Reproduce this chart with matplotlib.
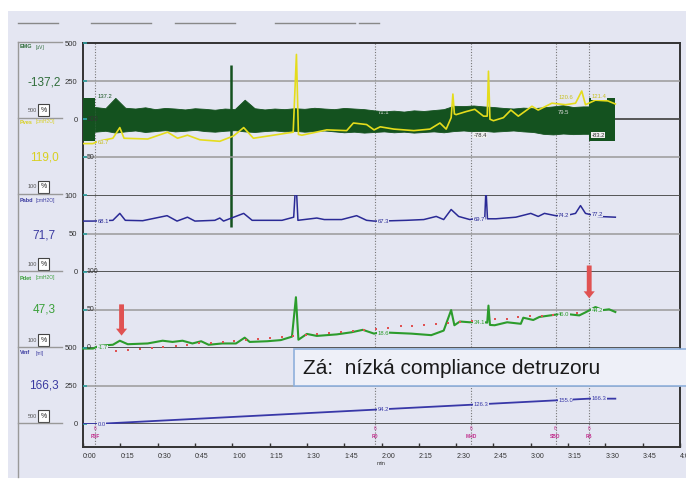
import numpy as np
import matplotlib.pyplot as plt
from matplotlib.patches import Rectangle
from matplotlib.lines import Line2D

plt.rcParams['font.family'] = ['Liberation Sans', 'DejaVu Sans']

# ---------------- data (time in seconds) ----------------
tick_labels = ['0:00', '0:15', '0:30', '0:45', '1:00', '1:15', '1:30', '1:45', '2:00',
               '2:15', '2:30', '2:45', '3:00', '3:15', '3:30', '3:45', '4:00']

event_t = [4.8, 117.4, 156.0, 190.0, 203.5]
event_names = ['FSF', 'FD', 'MHD', 'SBD', 'FB']

# EMG [uV] - envelope of the dense signal
emg_band_t = [4.8, 9, 13, 17, 21, 25, 29, 33, 37, 41, 45, 49, 53, 57, 61, 65, 69, 73, 77, 81,
              85, 89, 93, 97, 101, 105, 109, 113, 117, 121, 125, 129, 133, 137, 141, 145, 149,
              153, 157, 161, 165, 169, 173, 177, 181, 185, 189, 193, 197, 201, 203.5]
emg_band_hi = [80, 72, 140, 75, 70, 78, 66, 74, 70, 64, 72, 68, 62, 70, 66, 128, 72, 64, 70, 66,
               72, 68, 75, 70, 66, 74, 70, 66, 58, 52, 56, 50, 58, 54, 60, 66, 88, 86, 90, 84,
               80, 74, 70, 76, 72, 78, 84, 92, 80, 84, 84]
emg_band_lo = [-82, -76, -88, -80, -74, -84, -78, -72, -80, -76, -70, -78, -82, -76, -72, -80,
               -84, -78, -74, -80, -76, -82, -78, -74, -80, -86, -82, -88, -84, -80, -86, -82,
               -88, -84, -80, -86, -78, -74, -80, -76, -82, -78, -74, -80, -84, -96, -100, -94,
               -98, -96, -96]
emg_block_t = [(0, 4.8), (203.5, 214)]
emg_block_hi = [137, 140]
emg_block_lo = [-140, -144]
emg_spike_t = [59.5]
emg_spike_hi = [354]
emg_spike_lo = [-708]

# Pves [cmH2O]
pves_t = [0, 4, 6, 12, 14.8, 16.5, 26, 34, 38, 42, 47, 55, 60.5, 64.6, 68.5, 76.5, 84.5, 85.8,
          86.6, 88, 98, 106, 108.7, 114, 117, 119.5, 125, 133, 139.5, 143.5, 146, 148, 148.7,
          149.3, 150, 154, 157.5, 161, 162.5, 163, 163.6, 165, 169, 172, 175, 180.5, 183,
          188.5, 194, 198, 200.5, 202, 206, 211, 214]
pves_v = [68, 68, 71, 75, 89, 75, 74, 83, 75, 79, 73, 71, 78, 89, 75, 79, 83, 185,
          80, 79, 86, 85, 95, 93, 86, 90, 87, 85, 87, 95, 87, 102, 133,
          107, 106, 110, 113, 104, 104, 163, 100, 98, 102, 112, 104, 117, 112,
          121, 119, 121, 137, 119, 125, 124, 120]

# Pabd [cmH2O]
pabd_t = [0, 4, 12, 14.8, 17, 24, 33.8, 37.8, 42, 45, 53, 55, 56.5, 64.6, 68, 80, 84.7, 85.6,
          86.4, 94, 97, 104, 110, 114, 117, 119.4, 130, 137, 142, 145, 148, 151, 155.5, 159,
          161.5, 162, 162.6, 166, 174, 180, 183, 185.5, 190, 194, 198, 200, 202, 207, 214]
pabd_v = [66.3, 66.3, 67.3, 76.4, 67.3, 66.8, 73.4, 66.3, 71.4, 66.3, 67.3, 70.3, 66.3, 76.4,
          67.3, 67.3, 71.4, 122, 67.3, 70.3, 68.3, 68.3, 73.4, 67.3, 66.3, 66.3, 67.3, 68.3,
          72.4, 68.3, 81.5, 72.4, 68.3, 70.3, 69, 109, 69.3, 69.3, 71.4, 76.4, 72.4, 76.4,
          73.4, 73.4, 76.4, 86.6, 76.4, 72.4, 71.4]

# Pdet [cmH2O]
pdet_t = [0, 4, 6.5, 12, 14.8, 18, 26, 32, 36, 40, 44, 47.5, 50.5, 56, 61.5, 65, 67, 74, 79.5,
          84, 85.6, 86.6, 90, 94, 102, 108, 112.5, 117, 119.4, 125, 132, 140, 145, 148, 149.3,
          151.5, 155.5, 159.5, 162.5, 163, 163.6, 165.5, 170.5, 176, 177, 181, 183.5, 190, 194,
          199.5, 202, 206, 209, 211.5, 214]
pdet_v = [-1, -1, 2.7, 4, 9.3, 4.7, 5.7, 9.3, 7.7, 9.3, 5.7, 8.6, 4, 5.7, 5.7, 13.3, 7.7, 8.6,
          10.1, 14.6, 66.4, 10.6, 18.2, 15.6, 17.6, 20.4, 23.6, 18.6, 20.4, 19.6, 18.6, 16.6,
          22.6, 49.5, 29.6, 34.5, 33.5, 34.5, 33, 55.4, 30, 29.6, 33.5, 31.5, 39.5, 36.5, 40.5,
          43.5, 44.5, 42.5, 46.5, 53.5, 49.5, 50.5, 47]

# red dotted compliance trend
trend_t = [13.3, 18.2, 22.9, 27.6, 32.3, 37.3, 41.9, 46.8, 51.5, 56.2, 60.8, 65.5, 70.5, 75.2,
           79.9, 84.6, 89.5, 94.2, 99.0, 103.7, 108.4, 113.1, 117.8, 122.8, 127.7, 132.4,
           137.1, 141.9, 146.9, 151.6, 156.3, 161.0, 165.7, 170.4, 175.0, 179.7, 184.4, 189.1,
           193.8, 198.5]
trend_v = [-4.0, -3.1, -1.7, -0.4, 1.4, 2.7, 4.0, 5.8, 6.7, 8.0, 9.4, 10.3, 11.6, 12.9,
           13.8, 15.6, 16.9, 17.8, 19.6, 20.5, 21.8, 23.1, 24.5, 26.3, 28.0, 28.9, 30.3,
           31.6, 32.5, 33.8, 35.1, 36.0, 37.4, 38.3, 40.0, 41.4, 42.3, 43.6, 44.9, 46.3]

# Vinf [ml]
vinf_t = [0, 5, 117.4, 156.0, 190.0, 203.5, 214]
vinf_v = [0, 0, 94.2, 126.3, 155.0, 166.3, 166.3]

# value labels at the event markers
lab_emg_hi = ['137.2', '71.1', '', '79.5', '']
lab_emg_lo = ['', '', '-78.4', '', '-83.2']
lab_pves = ['63.7', '', '', '120.6', '121.4']
lab_pabd = ['68.1', '67.3', '69.7', '74.2', '77.2']
lab_pdet = ['-1.7', '18.6', '34.1', '46.0', '44.2']
lab_vinf = ['0.0', '94.2', '126.3', '155.0', '166.3']

# arrows (in Pdet units)
arrow_t = [15.5, 203.5]
arrow_top = [57, 108]
arrow_tip = [16, 65]

# left side panel
side_names = ['EMG', 'Pves', 'Pabd', 'Pdet', 'Vinf']
side_units = ['[uV]', '[cmH2O]', '[cmH2O]', '[cmH2O]', '[ml]']
side_values = ['-137,2', '119,0', '71,7', '47,3', '166,3']
side_scale = ['500', '100', '100', '100', '500']

caption = 'Zá:  nízká compliance detruzoru'

# ---------------- styling ----------------
W, H = 686, 482
BG = '#e4e6f2'
EMG_C = '#14521f'
PVES_C = '#e4dc1c'
PABD_C = '#2a2a96'
PDET_C = '#2c9c2c'
VINF_C = '#3838a8'
RED = '#e05252'
EVT_C = '#c02a8a'
DARK = '#4a4a4a'
GREY = '#9a9a9a'
side_colors = ['#2f6d3a', '#d8d020', '#3a3aa0', '#3aa03a', '#3a3aa0']

X0, X1 = 83, 680
ROW = [43 + 38.1 * k for k in range(11)]
BOTTOM = 447


def box(top, bottom):
    return [X0 / W, 1 - bottom / H, (X1 - X0) / W, (bottom - top) / H]


def fx(x):
    return x / W


def fy(y):
    return 1 - y / H


fig = plt.figure(figsize=(W / 100, H / 100), dpi=100)
fig.patch.set_facecolor('white')
fig.add_artist(Rectangle((fx(8), fy(478)), 1, (478 - 11) / H, transform=fig.transFigure,
                         fc=BG, ec='none', zorder=-10))

# frame with the time axis and event markers
frame = fig.add_axes(box(ROW[0], BOTTOM))
frame.patch.set_visible(False)
frame.set_xlim(0, 240)
frame.set_ylim(0, 1)
frame.set_yticks([])
frame.set_xticks(np.arange(0, 241, 15))
frame.set_xticklabels(tick_labels, ha='left')
frame.tick_params(axis='x', direction='in', length=3, width=1, color='#333',
                  labelsize=5, labelcolor='#333', pad=4)
for s in frame.spines.values():
    s.set_color('#333')
    s.set_linewidth(1.4)
frame.set_xlabel('min', fontsize=4, color='#333', labelpad=1)
for t, name in zip(event_t, event_names):
    frame.axvline(t, color='#777', lw=0.8, ls=(0, (1, 1.5)), zorder=0.5)
    frame.text(t, 0.045, '6', color=EVT_C, fontsize=3.5, ha='center', va='center')
    frame.text(t, 0.025, name, color=EVT_C, fontsize=3.5, ha='center', va='center',
               weight='bold')


def channel(top, bottom, ylim, ticks, labels):
    ax = fig.add_axes(box(top, bottom))
    ax.patch.set_visible(False)
    ax.set_xlim(0, 240)
    ax.set_ylim(*ylim)
    for s in ax.spines.values():
        s.set_visible(False)
    ax.set_xticks([])
    ax.set_yticks(ticks)
    ax.set_yticklabels(labels)
    ax.tick_params(axis='y', direction='in', length=3, width=1.2, color='#2a9d9d',
                   labelsize=5.5, labelcolor='#333', pad=4)
    return ax


ax_emg = channel(ROW[0], ROW[4], (-500, 500), [0, 250, 500], ['0', '250', '500'])
ax_pves = channel(ROW[0], ROW[4], (0, 200), [50, 100], ['', ''])
ax_pabd = channel(ROW[4], ROW[6], (0, 100), [0, 50, 100], ['0', '50', '100'])
ax_pdet = channel(ROW[6], ROW[8], (0, 100), [50], [''])
ax_vinf = channel(ROW[8], ROW[10], (0, 500), [0, 250, 500], ['0', '250', '500'])

# grid lines of the channels
ax_emg.axhline(250, color=GREY, lw=1.1, zorder=0.5)
ax_emg.axhline(0, color=DARK, lw=1.3, zorder=0.5)
ax_pves.axhline(50, color=GREY, lw=1.1, zorder=0.5)
ax_pabd.axhline(100, color=DARK, lw=1.3, zorder=0.5)
ax_pabd.axhline(50, color=GREY, lw=1.1, zorder=0.5)
ax_pabd.axhline(0, color=DARK, lw=1.3, zorder=0.5)
ax_pdet.axhline(50, color=GREY, lw=1.1, zorder=0.5)
ax_pdet.axhline(0, color=DARK, lw=1.3, zorder=0.5)
ax_vinf.axhline(250, color=GREY, lw=1.1, zorder=0.5)
ax_vinf.axhline(0, color=DARK, lw=1.3, zorder=0.5)

# inner scale labels for Pves / Pdet
for ax, vals in [(ax_pves, [100, 50]), (ax_pdet, [100, 50, 0])]:
    for v in vals:
        ax.text(1.5, v, str(v), fontsize=5, color='#333', ha='left', va='center')

# EMG
ax_emg.fill_between(emg_band_t, emg_band_lo, emg_band_hi, color=EMG_C, lw=0.6,
                    edgecolor=EMG_C)
for (t0, t1), hi, lo in zip(emg_block_t, emg_block_hi, emg_block_lo):
    ax_emg.fill_between([t0, t1], [lo, lo], [hi, hi], color=EMG_C, lw=0)
ax_emg.vlines(emg_spike_t, emg_spike_lo, emg_spike_hi, color=EMG_C, lw=1.8, clip_on=False)

# pressures and volume
ax_pves.plot(pves_t, pves_v, color=PVES_C, lw=1.2)
ax_pabd.plot(pabd_t, pabd_v, color=PABD_C, lw=1.1)
ax_pdet.plot(pdet_t, pdet_v, color=PDET_C, lw=1.5, clip_on=False)
ax_pdet.scatter(trend_t, trend_v, s=4.5, marker='s', color=RED, lw=0, clip_on=False, zorder=3)
ax_vinf.plot(vinf_t, vinf_v, color=VINF_C, lw=1.3)

# value labels at events
lab_kw = dict(fontsize=4.2, ha='left', va='center')
for i, t in enumerate(event_t):
    if lab_emg_hi[i]:
        ax_emg.text(t + 1, 150 if i == 0 else 45, lab_emg_hi[i],
                    color=EMG_C if i == 0 else '#dddddd', **lab_kw)
    if lab_emg_lo[i]:
        ax_emg.text(t + 1, -105, lab_emg_lo[i], color='#333',
                    bbox=dict(fc='#eeeeee', ec='none', pad=0.3), **lab_kw)
    for ax, st, sv, labs, col in [(ax_pves, pves_t, pves_v, lab_pves, '#c8c020'),
                                  (ax_pabd, pabd_t, pabd_v, lab_pabd, PABD_C),
                                  (ax_pdet, pdet_t, pdet_v, lab_pdet, PDET_C),
                                  (ax_vinf, vinf_t, vinf_v, lab_vinf, VINF_C)]:
        if labs[i]:
            y = np.interp(t, st, sv) + (8 if ax is ax_pves and i > 0 else 0)
            ax.text(t + 1, y, labs[i], color=col,
                    bbox=dict(fc=BG, ec='none', pad=0.2), **lab_kw)

# red arrows
for t, top, tip in zip(arrow_t, arrow_top, arrow_tip):
    ax_pdet.annotate('', xy=(t, tip), xytext=(t, top), annotation_clip=False,
                     arrowprops=dict(width=3.5, headwidth=8, headlength=5, color=RED, lw=0))

# caption box
fig.add_artist(Rectangle((fx(294), fy(386)), 1, 37 / H, transform=fig.transFigure,
                         fc='#eef0f8', ec='#8fb0dc', lw=1.2, zorder=5))
fig.text(fx(303), fy(368), caption, fontsize=15, color='#1a1a1a', va='center', zorder=6)

# left side panel
fig.add_artist(Line2D([fx(18), fx(18)], [fy(42), fy(477)], color='#999', lw=1))
for y in [42, 118, 194, 271, 347, 423]:
    fig.add_artist(Line2D([fx(18), fx(62)], [fy(y), fy(y)], color='#999', lw=1))
head_y = [47, 122, 200, 278, 353]
value_y = [82, 157, 235, 310, 386]
icon_y = [110, 187, 264, 340, 416]
for i in range(5):
    c = side_colors[i]
    fig.text(fx(20), fy(head_y[i]), side_names[i], fontsize=4, weight='bold', color=c,
             va='center')
    fig.text(fx(36), fy(head_y[i]), side_units[i], fontsize=3.5, color=c, va='center')
    fig.text(fx(44), fy(value_y[i]), side_values[i], fontsize=8.5, color=c, va='center',
             ha='center')
    fig.text(fx(37), fy(icon_y[i]), side_scale[i], fontsize=4, color='#555', va='center',
             ha='right')
    fig.add_artist(Rectangle((fx(38), fy(icon_y[i] + 6)), 11 / W, 12 / H,
                             transform=fig.transFigure, fc='white', ec='#444', lw=0.8))
    fig.text(fx(43.5), fy(icon_y[i]), '%', fontsize=5, color='#222', va='center',
             ha='center')

# header strip
for x0, x1 in [(18, 58), (91, 151), (175, 235), (275, 355), (359, 379)]:
    fig.add_artist(Line2D([fx(x0), fx(x1)], [fy(23), fy(23)], color='#888', lw=1))

fig.savefig('out.png', dpi=100, facecolor=fig.get_facecolor())
